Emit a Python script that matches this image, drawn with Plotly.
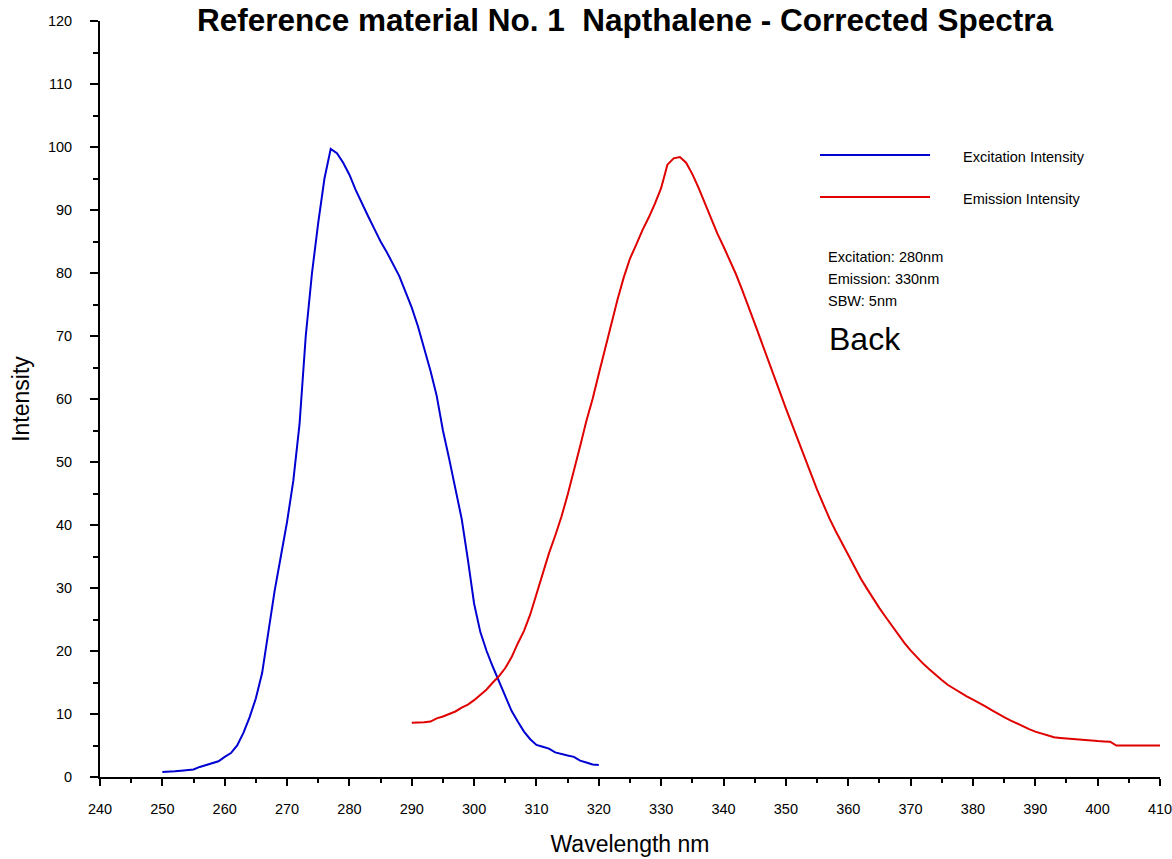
import plotly.graph_objects as go

# ---- data ----
exc_wavelength = list(range(250, 321))
exc_intensity = [
    0.8, 0.8, 0.9, 1.0, 1.1, 1.2, 1.6, 1.9, 2.1, 2.5,          # 250-259
    3.2, 3.8, 5.0, 7.0, 9.5, 12.5, 16.5, 23.0, 29.5, 35.0,     # 260-269
    40.5, 47.0, 56.0, 70.0, 80.0, 88.0, 95.0, 99.7, 99.0, 97.5, # 270-279
    95.6, 93.2, 91.0, 89.0, 87.0, 85.0, 83.3, 81.5, 79.5, 77.0, # 280-289
    74.5, 71.5, 68.0, 64.5, 60.5, 55.0, 50.5, 45.5, 41.0, 34.5, # 290-299
    27.5, 23.0, 20.0, 17.5, 15.2, 13.0, 10.5, 8.8, 7.2, 6.0,   # 300-309
    5.1, 4.8, 4.5, 3.9, 3.6, 3.4, 3.2, 2.6, 2.3, 2.0,          # 310-319
    1.9,                                                       # 320
]

em_wavelength = list(range(290, 411))
em_intensity = [
    8.6, 8.6, 8.7, 8.8, 9.3, 9.6, 10.0, 10.4, 11.0, 11.5,      # 290-299
    12.2, 13.0, 13.9, 15.0, 16.0, 17.3, 19.0, 21.2, 23.2, 25.8, # 300-309
    29.0, 32.3, 35.5, 38.3, 41.3, 44.8, 48.5, 52.5, 56.5, 60.0, # 310-319
    64.0, 68.0, 72.0, 75.8, 79.3, 82.3, 84.5, 86.8, 88.8, 91.0, # 320-329
    93.5, 97.2, 98.2, 98.4, 97.5, 95.7, 93.5, 91.0, 88.8, 86.3, # 330-339
    84.2, 82.0, 79.8, 77.3, 74.8, 72.0, 69.3, 66.5, 63.8, 61.2, # 340-349
    58.5, 56.0, 53.3, 50.8, 48.2, 45.6, 43.3, 41.0, 39.0, 37.1, # 350-359
    35.3, 33.5, 31.5, 29.9, 28.3, 26.8, 25.4, 24.0, 22.6, 21.3, # 360-369
    20.1, 19.0, 18.0, 17.1, 16.2, 15.4, 14.6, 14.0, 13.3, 12.8, # 370-379
    12.3, 11.8, 11.2, 10.6, 10.0, 9.5, 9.0, 8.5, 8.0, 7.6,      # 380-389
    7.2, 6.9, 6.6, 6.3, 6.2, 6.1, 6.0, 5.95, 5.9, 5.8,          # 390-399
    5.7, 5.65, 5.6, 5.0, 5.0, 5.0, 5.0, 5.0, 5.0, 5.0,          # 400-409
    5.0,                                                       # 410
]

series_names = ["Excitation Intensity", "Emission Intensity"]
info_lines = ["Excitation: 280nm", "Emission: 330nm", "SBW: 5nm"]
title_text = "Reference material No. 1\u00a0 Napthalene - Corrected Spectra"
x_ticks = list(range(240, 411, 10))
y_ticks = list(range(0, 121, 10))

FONT = "Liberation Sans, Arial, sans-serif"
BLUE = "#0000D2"
RED = "#E00000"

fig = go.Figure()
fig.add_trace(go.Scatter(x=exc_wavelength, y=exc_intensity, mode="lines",
                         name=series_names[0], line=dict(color=BLUE, width=2),
                         showlegend=False))
fig.add_trace(go.Scatter(x=em_wavelength, y=em_intensity, mode="lines",
                         name=series_names[1], line=dict(color=RED, width=2),
                         showlegend=False))

# layout geometry (pixels)
W, H = 1172, 859
L, R, T, B = 100, 12, 21, 82
pw, ph = W - L - R, H - T - B


def px(xp):
    return (xp - L) / pw


def py(yp):
    return (H - B - yp) / ph


shapes = []
annotations = []
# legend drawn in paper coordinates (long sample lines as in the reference)
for i, (name, col) in enumerate(zip(series_names, [BLUE, RED])):
    yline = 155 + i * 42
    shapes.append(dict(type="line", xref="paper", yref="paper",
                       x0=px(820), x1=px(930), y0=py(yline), y1=py(yline),
                       line=dict(color=col, width=2)))
    annotations.append(dict(x=px(961), y=py(yline + 2), xref="paper", yref="paper",
                            text=name, showarrow=False, xanchor="left", yanchor="middle",
                            font=dict(family=FONT, size=14.5, color="#000000")))

for i, t in enumerate(info_lines):
    annotations.append(dict(x=px(826), y=py(257 + i * 22), xref="paper", yref="paper",
                            text=t, showarrow=False, xanchor="left", yanchor="middle",
                            font=dict(family=FONT, size=14.5, color="#000000")))

annotations.append(dict(x=px(827), y=py(339), xref="paper", yref="paper",
                        text="Back", showarrow=False, xanchor="left", yanchor="middle",
                        font=dict(family=FONT, size=32, color="#000000")))

annotations.append(dict(x=px(625), y=1, xref="paper", yref="paper",
                        text="<b>" + title_text + "</b>", showarrow=False,
                        xanchor="center", yanchor="top", yshift=T,
                        font=dict(family=FONT, size=31.5, color="#000000")))

fig.update_layout(
    width=W, height=H,
    margin=dict(l=L, r=R, t=T, b=B, pad=0),
    paper_bgcolor="white", plot_bgcolor="white",
    font=dict(family=FONT, size=14, color="#000000"),
    shapes=shapes, annotations=annotations,
    showlegend=False,
)

fig.update_xaxes(
    range=[240, 410], tickvals=x_ticks, ticktext=[str(v) for v in x_ticks],
    automargin=False, ticklabeloverflow="allow",
    showgrid=False, zeroline=False, showline=True, linecolor="#000000", linewidth=2,
    ticks="outside", ticklen=7, tickwidth=1.5, tickcolor="#000000",
    minor=dict(dtick=5, tick0=240, ticks="outside", ticklen=4, tickwidth=1.5,
               tickcolor="#000000", showgrid=False),
    tickfont=dict(family=FONT, size=14.5, color="#000000"),
    ticklabelstandoff=11,
    title=dict(text="Wavelength nm", font=dict(family=FONT, size=23, color="#000000"),
               standoff=19),
)
fig.update_yaxes(
    range=[0, 120], tickvals=y_ticks, ticktext=[str(v) for v in y_ticks],
    automargin=False, ticklabeloverflow="allow",
    showgrid=False, zeroline=False, showline=True, linecolor="#000000", linewidth=2,
    ticks="outside", ticklen=8, tickwidth=1.5, tickcolor="#000000",
    minor=dict(dtick=5, tick0=0, ticks="outside", ticklen=5, tickwidth=1.5,
               tickcolor="#000000", showgrid=False),
    tickfont=dict(family=FONT, size=14.5, color="#000000"),
    ticklabelstandoff=15,
    title=dict(text="Intensity", font=dict(family=FONT, size=23, color="#000000"),
               standoff=12),
)

fig.write_html("out.html")
